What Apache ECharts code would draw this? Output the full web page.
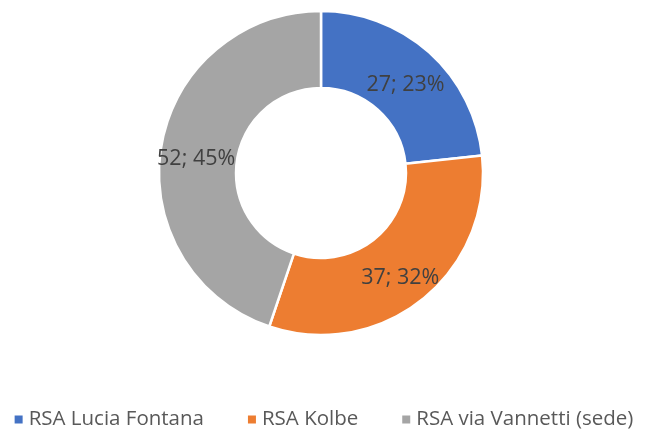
<!DOCTYPE html>
<html>
<head>
<meta charset="utf-8">
<script src="https://cdn.jsdelivr.net/npm/echarts@6/dist/echarts.min.js"></script>
<style>
  html, body { margin: 0; padding: 0; background: #fff; }
  #chart { width: 646px; height: 435px; }
</style>
</head>
<body>
<div id="chart"></div>
<script>
var names = ['RSA Lucia Fontana', 'RSA Kolbe', 'RSA via Vannetti (sede)'];
var values = [27, 37, 52];
var colors = ['#4472C4', '#ED7D31', '#A5A5A5'];

var myChart = echarts.init(document.getElementById('chart'));

var data = names.map(function (n, i) {
    return {name: n, value: values[i], itemStyle: {color: colors[i]}};
});

myChart.setOption({
    animation: false,
    textStyle: {fontFamily: 'Open Sans'},
    legend: {
        top: 409,
        left: 'center',
        padding: 0,
        itemWidth: 10,
        itemHeight: 10,
        itemGap: 42,
        icon: 'rect',
        textStyle: {fontSize: 20.5, color: '#595959', fontFamily: 'Open Sans'},
        data: names
    },
    series: [
        {
            type: 'pie',
            center: [321, 173],
            radius: [85, 162],
            startAngle: 90,
            clockwise: true,
            itemStyle: {borderColor: '#fff', borderWidth: 2.5},
            label: {
                show: true,
                position: 'inside',
                offset: [0, 6],
                fontSize: 21.5,
                color: '#404040',
                fontFamily: 'Open Sans',
                formatter: function (p) {
                    return p.value + '; ' + Math.round(p.percent) + '%';
                }
            },
            labelLine: {show: false},
            emphasis: {disabled: true},
            data: data
        }
    ]
});
</script>
</body>
</html>
